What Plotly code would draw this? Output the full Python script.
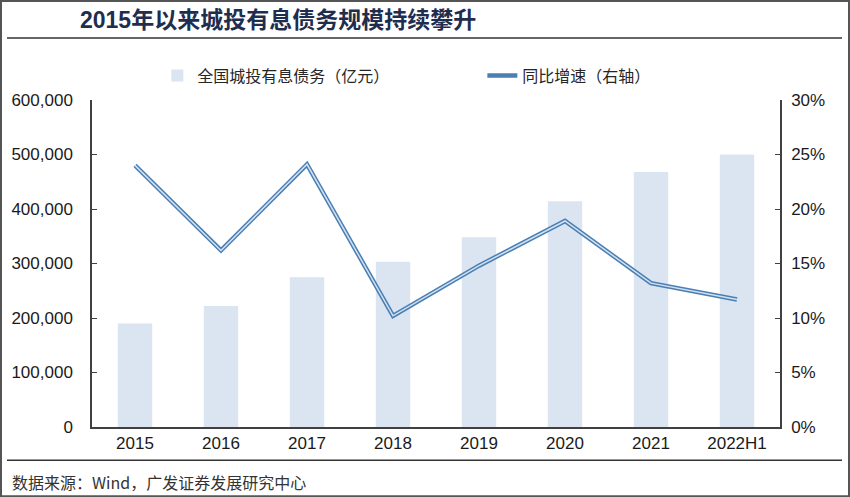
import plotly.graph_objects as go

years = ['2015', '2016', '2017', '2018', '2019', '2020', '2021', '2022H1']
debt = [190000, 222000, 275000, 303000, 348000, 414000, 468000, 500000]
growth = [24.0, 16.2, 24.1, 10.2, 14.8, 18.9, 13.2, 11.7]

left_ticks = [0, 100000, 200000, 300000, 400000, 500000, 600000]
left_labels = ['0', '100,000', '200,000', '300,000', '400,000', '500,000', '600,000']
right_ticks = [0, 5, 10, 15, 20, 25, 30]
right_labels = ['0%', '5%', '10%', '15%', '20%', '25%', '30%']

font_num = 'Liberation Sans, Arial, Noto Sans CJK SC'
font_cn = 'Noto Sans CJK SC, Liberation Sans'

fig = go.Figure()
fig.add_trace(go.Bar(x=years, y=debt, name='全国城投有息债务（亿元）',
                     marker=dict(color='#dbe5f1', line=dict(width=0))))
# double line: dark outline + light core
fig.add_trace(go.Scatter(x=years, y=growth, yaxis='y2', mode='lines',
                         name='同比增速（右轴）',
                         line=dict(color='#4a7fb3', width=4.5)))
fig.add_trace(go.Scatter(x=years, y=growth, yaxis='y2', mode='lines',
                         showlegend=False, hoverinfo='skip',
                         line=dict(color='#d3e2f2', width=1.5)))

fig.update_layout(
    width=850, height=497,
    margin=dict(l=92, r=70, t=100, b=70),
    paper_bgcolor='white', plot_bgcolor='white',
    bargap=0.6,
    showlegend=True,
    legend=dict(orientation='h', x=0.095, y=1.075, xanchor='left', yanchor='middle',
                font=dict(family=font_cn, size=16, color='#262626'),
                entrywidth=280, bgcolor='rgba(0,0,0,0)'),
    xaxis=dict(showline=True, linecolor='#404040', linewidth=1.5,
               ticks='', showgrid=False,
               tickfont=dict(family=font_num, size=17, color='#1a1a1a')),
    yaxis=dict(range=[0, 600000], tickvals=left_ticks, ticktext=left_labels,
               showline=True, linecolor='#404040', linewidth=1.5,
               ticks='inside', ticklen=5, tickcolor='#404040',
               showgrid=False, zeroline=False, ticklabelstandoff=14,
               tickfont=dict(family=font_num, size=17, color='#1a1a1a')),
    yaxis2=dict(range=[0, 30], tickvals=right_ticks, ticktext=right_labels,
                overlaying='y', side='right',
                showline=True, linecolor='#404040', linewidth=1.5,
                ticks='inside', ticklen=5, tickcolor='#404040',
                showgrid=False, zeroline=False, ticklabelstandoff=6,
                tickfont=dict(family=font_num, size=17, color='#1a1a1a')),
)

# title, rules, source
fig.add_annotation(text='<b>2015年以来城投有息债务规模持续攀升</b>', xref='paper', yref='paper',
                   x=(78 - 92) / 688, y=(426.7 - 20) / 326.7, xanchor='left', yanchor='middle',
                   showarrow=False, font=dict(family=font_num, size=23, color='#1f2d4f'))
fig.add_annotation(text='数据来源：Wind，广发证券发展研究中心', xref='paper', yref='paper',
                   x=(10 - 92) / 688, y=(426.7 - 482) / 326.7, xanchor='left', yanchor='middle',
                   showarrow=False, font=dict(family=font_cn, size=16, color='#333333'))
fig.add_shape(type='line', xref='paper', yref='paper',
              x0=(7 - 92) / 688, x1=(842 - 92) / 688,
              y0=(426.7 - 38) / 326.7, y1=(426.7 - 38) / 326.7,
              line=dict(color='#333333', width=1.5))
fig.add_shape(type='line', xref='paper', yref='paper',
              x0=(7 - 92) / 688, x1=(842 - 92) / 688,
              y0=(426.7 - 460) / 326.7, y1=(426.7 - 460) / 326.7,
              line=dict(color='#333333', width=1.5))
fig.add_shape(type='rect', xref='paper', yref='paper',
              x0=(1 - 92) / 688, x1=(849 - 92) / 688,
              y0=(426.7 - 496) / 326.7, y1=(426.7 - 1) / 326.7,
              line=dict(color='#555555', width=2))

fig.write_html('out.html', config={'displayModeBar': False},
               post_script="document.body.style.margin='0';")
